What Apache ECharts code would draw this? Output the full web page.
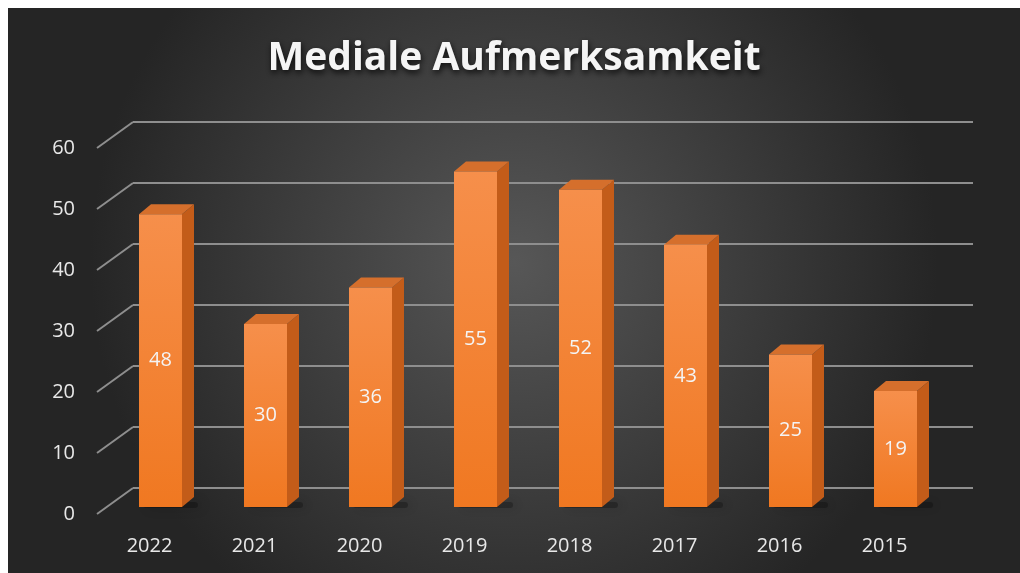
<!DOCTYPE html>
<html>
<head>
<meta charset="utf-8">
<script src="https://cdn.jsdelivr.net/npm/echarts@6/dist/echarts.min.js"></script>
<style>
  html, body { margin: 0; padding: 0; background: #fff; }
  #chart { position: absolute; left: 8px; top: 8px; width: 1012px; height: 565px; }
</style>
</head>
<body>
<div id="chart"></div>
<script>
var years = ["2022", "2021", "2020", "2019", "2018", "2017", "2016", "2015"];
var mentions = [48, 30, 36, 55, 52, 43, 25, 19];
var yTicks = [0, 10, 20, 30, 40, 50, 60];

var chart = echarts.init(document.getElementById("chart"));

// 3D look: bars stand a little behind the front edge
var barShift = [11, -7];
var depth = [12, -10];
var barWidth = 43;
var gridColor = "#8e8e8e";

function renderBar(params, api) {
  var i = api.value(0);
  var v = api.value(1);
  var base = api.coord([i, 0]);
  var top = api.coord([i, v]);
  var x0 = base[0] + barShift[0] - barWidth / 2;
  var x1 = x0 + barWidth;
  var yb = base[1] + barShift[1];
  var yt = top[1] + barShift[1];
  return {
    type: "group",
    children: [
      {
        // soft shadow on the floor
        type: "rect",
        shape: { x: x0 + 4, y: yb - 5, width: barWidth + depth[0], height: 6, r: 3 },
        style: { fill: "rgba(0,0,0,0.25)", shadowBlur: 12, shadowColor: "rgba(0,0,0,0.6)", shadowOffsetX: 4 }
      },
      {
        type: "polygon",
        shape: { points: [[x1, yt], [x1 + depth[0], yt + depth[1]], [x1 + depth[0], yb + depth[1]], [x1, yb]] },
        style: { fill: "#c35c19" }
      },
      {
        type: "polygon",
        shape: { points: [[x0, yt], [x0 + depth[0], yt + depth[1]], [x1 + depth[0], yt + depth[1]], [x1, yt]] },
        style: { fill: "#d56f2c" }
      },
      {
        type: "rect",
        shape: { x: x0, y: yt, width: barWidth, height: yb - yt },
        style: {
          fill: new echarts.graphic.LinearGradient(0, 0, 0, 1, [
            { offset: 0, color: "#f68f4b" },
            { offset: 1, color: "#f07821" }
          ])
        }
      },
      {
        type: "text",
        style: {
          text: String(v),
          x: (x0 + x1) / 2,
          y: (yt + yb) / 2,
          align: "center",
          verticalAlign: "middle",
          fill: "#f4f4f4",
          fontSize: 20,
          fontFamily: "Open Sans"
        }
      }
    ]
  };
}

function renderDiag(params, api) {
  var p = api.coord([0, api.value(1)]);
  var x = params.coordSys.x;
  return {
    type: "line",
    shape: { x1: x, y1: p[1], x2: x - 36, y2: p[1] + 26 },
    style: { stroke: gridColor, lineWidth: 2 }
  };
}

var option = {
  backgroundColor: new echarts.graphic.RadialGradient(0.5, 0.45, 0.75, [
    { offset: 0, color: "#575757" },
    { offset: 1, color: "#252525" }
  ]),
  title: {
    text: "Mediale Aufmerksamkeit",
    left: "center",
    top: 26,
    textStyle: {
      color: "#f5f5f5",
      fontSize: 39,
      fontWeight: "bold",
      fontFamily: "Open Sans",
      textShadowColor: "rgba(0,0,0,0.8)",
      textShadowBlur: 6,
      textShadowOffsetX: 1,
      textShadowOffsetY: 3
    }
  },
  grid: [
    // back wall
    { left: 125, top: 114, width: 840, height: 366 },
    // front edge
    { left: 89, top: 140, width: 840, height: 366 }
  ],
  xAxis: [
    { gridIndex: 0, type: "category", data: years, show: false },
    {
      gridIndex: 1,
      type: "category",
      data: years,
      axisLine: { show: false },
      axisTick: { show: false },
      axisLabel: { color: "#e8e8e8", fontSize: 20, fontFamily: "Open Sans", margin: 22 }
    }
  ],
  yAxis: [
    {
      gridIndex: 0,
      type: "value",
      min: 0,
      max: 60,
      interval: 10,
      axisLine: { show: false },
      axisTick: { show: false },
      axisLabel: { show: false },
      splitLine: { lineStyle: { color: gridColor, width: 2 } }
    },
    {
      gridIndex: 1,
      type: "value",
      min: 0,
      max: 60,
      interval: 10,
      axisLine: { show: false },
      axisTick: { show: false },
      splitLine: { show: false },
      axisLabel: { color: "#e8e8e8", fontSize: 20, fontFamily: "Open Sans", margin: 22 }
    }
  ],
  series: [
    {
      type: "custom",
      xAxisIndex: 0,
      yAxisIndex: 0,
      renderItem: renderDiag,
      data: yTicks.map(function (v) { return [0, v]; }),
      silent: true,
      z: 1
    },
    {
      type: "custom",
      xAxisIndex: 1,
      yAxisIndex: 1,
      renderItem: renderBar,
      data: mentions.map(function (v, i) { return [i, v]; }),
      z: 5
    }
  ]
};

chart.setOption(option);
window.addEventListener("resize", function () {
  chart.resize();
});
</script>
</body>
</html>
